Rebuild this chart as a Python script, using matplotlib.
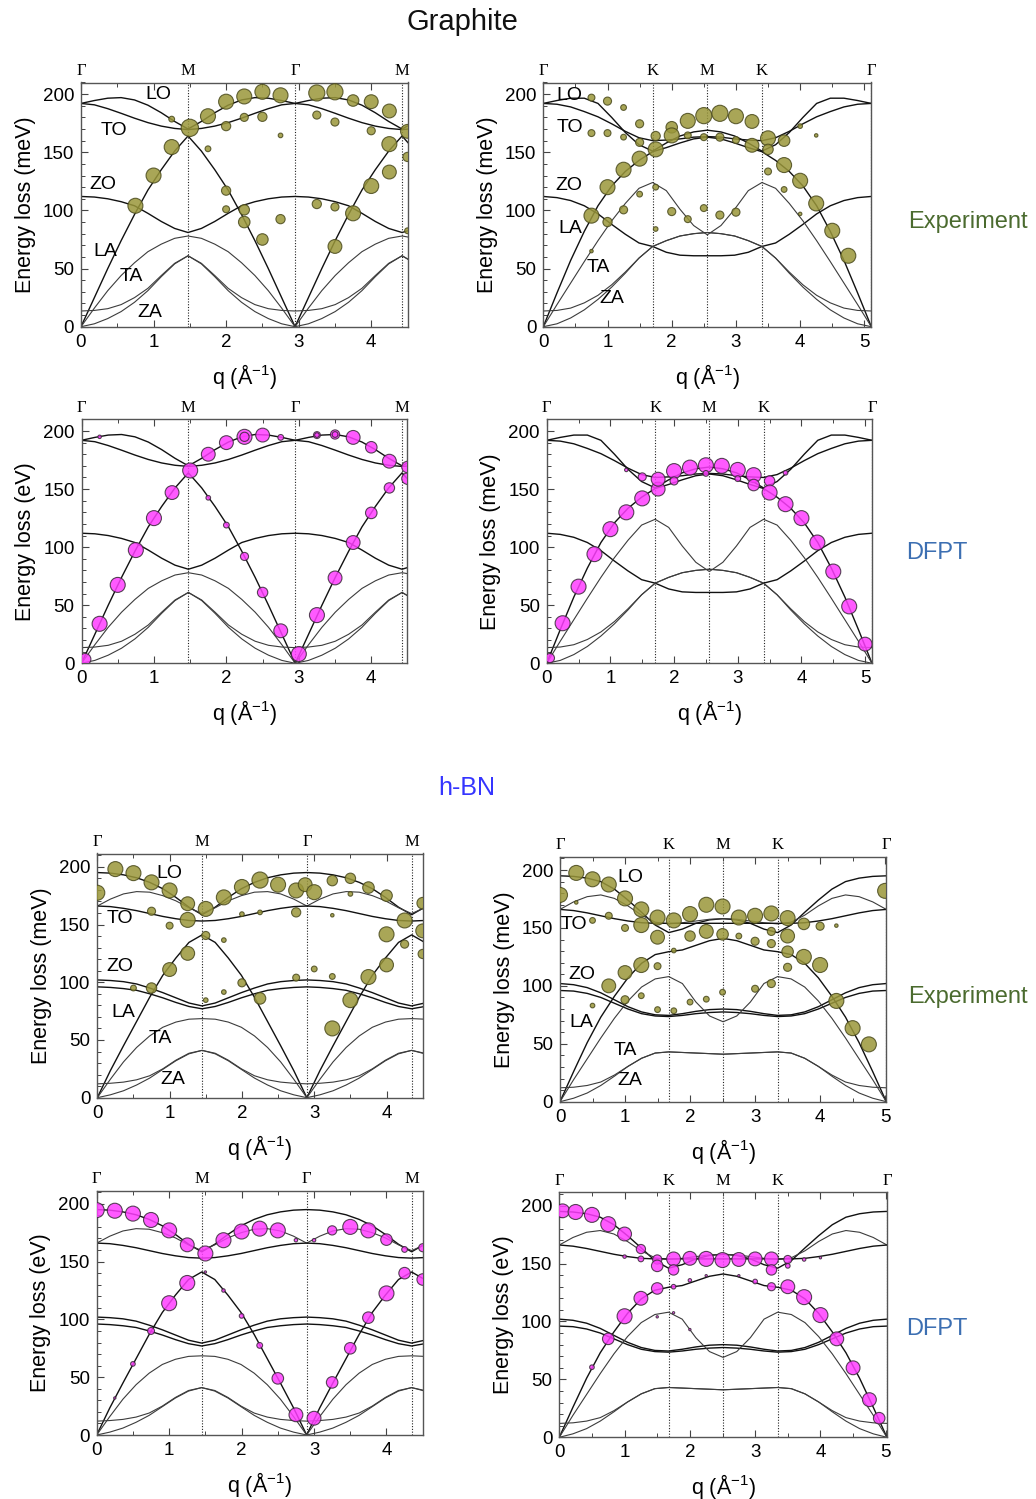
import numpy as np
import matplotlib
matplotlib.use("Agg")
import matplotlib.pyplot as plt
from matplotlib.ticker import MultipleLocator

plt.rcParams['font.family'] = ['Liberation Sans', 'DejaVu Sans']
plt.rcParams['mathtext.fontset'] = 'custom'
plt.rcParams['mathtext.rm'] = 'Liberation Sans'
plt.rcParams['mathtext.it'] = 'Liberation Sans:italic'
plt.rcParams['mathtext.bf'] = 'Liberation Sans:bold'

# ---------------------------------------------------------------------------
# Brillouin-zone segment lengths (1/Angstrom)
GR_GM, GR_GK, GR_KM = 1.475, 1.703, 0.851
BN_GM, BN_GK, BN_KM = 1.449, 1.673, 0.836

# fractional positions along a segment at which the branches are tabulated
T_LONG = [0.0, 0.125, 0.25, 0.375, 0.5, 0.625, 0.75, 0.875, 1.0]
T_SHORT = [0.0, 0.25, 0.5, 0.75, 1.0]

# ---------------------------------------------------------------------------
# Calculated phonon branches of graphite (meV)
gr_GM = {
    'LO':  [192, 194.5, 196.5, 197, 195, 190.5, 184, 176.5, 170],
    'TO':  [192, 190.8, 187.5, 183.5, 179.3, 175.5, 172.5, 170.5, 169.5],
    'LA':  [0, 25, 50, 74, 96.5, 117.5, 135, 151, 164],
    'ZO':  [112, 111.5, 110, 107.5, 104, 97.5, 90.5, 84.5, 81],
    'TA':  [0, 16, 31, 44, 55, 64.5, 71, 76, 78],
    'ZA':  [0, 2.5, 7, 13, 21, 31, 43, 54, 61],
    "ZO'": [13.5, 14, 15.5, 19, 25, 33, 44, 54.5, 61],
}
gr_GK = {
    'LO':  [192, 194.5, 196.5, 196.5, 192, 180, 167, 156.5, 151],
    'TO':  [192, 191.3, 189, 185, 180.5, 174.5, 168, 162.5, 160],
    'LA':  [0, 29, 57, 82, 104, 121, 133.5, 143, 150.5],
    'ZO':  [112, 111, 108.5, 104, 97, 88, 79.5, 72, 69],
    'TA':  [0, 19, 37.5, 56, 74, 91, 106, 119, 124],
    'ZA':  [0, 2.5, 7.5, 14.5, 23.5, 34, 46, 59, 69],
    "ZO'": [13.5, 14, 16, 20.5, 27, 36, 47, 59, 69],
}
gr_KM = {
    'LO':  [151, 158, 164, 167.5, 169],
    'TO':  [160, 160.5, 161.5, 163, 163.5],
    'LA':  [150.5, 154, 158, 161.5, 163],
    'ZO':  [69, 64, 61.5, 61, 61],
    'TA':  [124, 117, 101, 87, 79],
    'ZA':  [69, 74, 78, 80, 81],
    "ZO'": [69, 74, 78, 80, 81],
}

# Calculated phonon branches of h-BN (meV)
bn_GM = {
    'LO':  [195, 194.5, 193, 190.5, 186.5, 181, 173.5, 165, 158.5],
    'TO1': [166, 172, 176.5, 178.5, 178, 175, 170.5, 164.5, 159.5],
    'TO':  [166, 165.5, 164, 162, 159.5, 157, 155, 153.5, 153],
    'LA':  [0, 23.5, 45, 66, 87, 106, 121, 134.5, 141],
    'ZO':  [102, 101.5, 100.5, 98.5, 95, 91, 86.5, 82, 79.5],
    'ZO2': [96, 95.5, 94.5, 93, 90, 86.5, 82.5, 79, 77],
    'TA':  [0, 16, 31, 43.5, 53.5, 61, 65.5, 68, 68.5],
    'ZA':  [0, 2.5, 6, 11, 17, 24.5, 32, 38, 41],
    "ZO'": [12, 12.5, 13.5, 15.5, 19, 25, 32.5, 38.5, 41],
}
bn_GK = {
    'LO':  [195, 194.5, 193, 190, 183.5, 174, 163.5, 152.5, 146],
    'TO1': [166, 172.5, 177, 178.5, 175.5, 169, 161, 155, 153.5],
    'TO':  [166, 165, 163, 160.5, 158, 156, 154.5, 154, 154],
    'LA':  [0, 26, 51, 73, 91, 107, 119.5, 127, 129.5],
    'ZO':  [102, 101, 98.5, 94, 88, 82, 77.5, 75, 74.5],
    'ZO2': [96, 95.5, 93.5, 90, 85, 80, 76, 74, 73.5],
    'TA':  [0, 19, 37, 55, 72, 87, 99, 106, 108],
    'ZA':  [0, 3, 7.5, 14, 22, 30.5, 37.5, 42, 43],
    "ZO'": [12, 12.5, 14, 17, 23, 30.5, 37.5, 42, 43],
}
bn_KM = {
    'LO':  [146, 149, 154, 157, 158],
    'TO1': [153.5, 154.5, 156, 157.5, 158],
    'TO':  [154, 154, 154, 154, 154],
    'LA':  [129.5, 131, 135, 139, 141],
    'ZO':  [74.5, 76, 78, 79.5, 80],
    'ZO2': [73.5, 74.5, 76, 77, 77.5],
    'TA':  [108, 102, 86, 74, 69],
    'ZA':  [43, 42.5, 42, 41.5, 41],
    "ZO'": [43, 42.5, 42, 41.5, 41],
}

# ---------------------------------------------------------------------------
# Measured loss peaks: q (1/A), energy (meV), spectral weight (marker diameter)
gEL_q = [1.25, 1.5, 1.25, 1.0, 0.75, 1.75, 1.75, 2.0, 2.0, 2.25, 2.25, 2.5, 2.5, 2.75, 2.75,
         2.0, 2.0, 2.25, 2.25, 2.5, 2.75, 3.25, 3.5, 3.25, 3.5, 3.75, 4.0, 4.25, 4.0, 4.25,
         4.25, 4.0, 4.5, 4.5, 3.25, 3.5, 3.75, 3.5, 4.5]
gEL_E = [178.5, 171, 154.5, 130, 104, 181, 153, 193.5, 172.5, 198, 180, 202, 180.5, 199, 164.5,
         117, 101, 100.5, 90, 75, 92.5, 201, 202, 182, 176, 194.5, 193.5, 185.5, 168.5, 157,
         133, 121, 168, 146, 105.5, 103, 97.5, 69, 82.5]
gEL_w = [5, 15, 13, 13, 13, 13, 5, 13, 8, 13, 7, 13, 8, 13, 4,
         8, 6, 9, 10, 10, 8, 14, 14, 7, 7, 10, 12, 12, 7, 13,
         12, 13, 12, 8, 8, 7, 13, 12, 5]

gER_q = [0.75, 1.0, 1.25, 0.75, 1.0, 1.25, 1.5, 1.5, 1.5, 1.25, 1.0, 0.75, 1.0, 1.25, 1.5,
         1.75, 1.75, 0.75, 1.75, 1.75, 2.0, 2.0, 2.25, 2.25, 2.5, 2.5, 2.75, 2.75, 3.0, 3.0,
         3.25, 3.25, 3.5, 3.5, 3.75, 3.75, 4.0, 4.25, 4.5, 4.75, 3.5, 3.75, 4.0, 4.25, 4.0,
         2.0, 2.25, 2.5, 2.75, 3.0]
gER_E = [197, 194, 188.5, 166.5, 166.5, 163, 174.5, 158.5, 144.5, 135, 120, 95.5, 90, 100.5, 114,
         120, 84, 65, 164, 152.5, 171.5, 164.5, 177, 164.5, 181.5, 163, 183.5, 163, 181, 160.5,
         176.5, 156, 162, 152.5, 160, 139, 125.5, 106, 82.5, 61, 133.5, 118, 172.5, 164.5, 97,
         99, 92.5, 102, 96, 98.5]
gER_w = [6, 7, 5, 6, 6, 5, 7, 7, 13, 13, 13, 13, 8, 7, 5,
         5, 4, 3, 8, 13, 10, 13, 13, 6, 14, 6, 14, 7, 13, 6,
         12, 12, 13, 9, 10, 13, 13, 13, 13, 13, 6, 5, 4, 3, 3,
         7, 6, 6, 7, 7]

gDL_q = [0.05, 0.25, 0.5, 0.75, 1.0, 1.25, 1.5, 1.75, 2.0, 2.25, 2.5, 2.75, 1.75, 2.0, 2.25,
         2.5, 2.75, 3.0, 3.25, 3.5, 3.75, 4.0, 4.25, 4.5, 4.5, 4.25, 4.0, 3.75, 3.5, 3.25,
         0.25, 2.25, 3.5, 3.25]
gDL_E = [3.5, 34, 67.5, 97.5, 125, 147, 166, 180, 190, 195, 196.5, 194.5, 142.5, 119, 92,
         61, 28, 8, 41.5, 73.5, 104, 129.5, 151, 159, 169, 174, 186, 194.5, 197, 196.5,
         195, 195, 197, 196.5]
gDL_w = [10, 13, 13, 13, 13, 12, 13, 12, 12, 13, 12, 5, 4, 5, 7,
         9, 12, 13, 13, 12, 12, 10, 9, 10, 10, 12, 10, 12, 8, 6,
         3, 8, 5, 4]

gDR_q = [0.05, 0.25, 0.5, 0.75, 1.0, 1.25, 1.5, 1.75, 1.75, 2.0, 2.0, 2.25, 2.5, 2.75, 3.0,
         3.25, 3.25, 3.5, 3.5, 3.75, 4.0, 4.25, 4.5, 4.75, 5.0, 1.5, 1.25, 3.75, 2.5, 3.0]
gDR_E = [4.5, 34.5, 66, 94, 115.5, 130, 142, 150, 158.5, 165.5, 157, 168.5, 170.5, 170, 166.5,
         162, 153.5, 157, 147, 137, 125, 104, 79, 49, 16.5, 160.5, 166.5, 164, 163.5, 159]
gDR_w = [8, 13, 13, 13, 13, 13, 13, 12, 12, 13, 7, 13, 13, 13, 13,
         13, 10, 9, 13, 13, 13, 13, 13, 13, 12, 7, 3, 4, 5, 5]

hEL_q = [0.0, 0.25, 0.5, 0.75, 1.0, 1.25, 1.25, 1.5, 0.75, 1.0, 1.5, 1.25, 1.0, 0.75, 0.5,
         1.5, 1.75, 1.75, 1.75, 2.0, 2.0, 2.0, 2.25, 2.25, 2.25, 2.5, 2.75, 2.75, 2.75, 2.875,
         3.0, 3.0, 3.25, 3.25, 3.25, 3.25, 3.5, 3.5, 3.5, 3.75, 3.75, 4.0, 4.0, 4.0, 4.25,
         4.25, 4.5, 4.5, 4.5]
hEL_E = [177.5, 198, 194.5, 186.5, 179.5, 168, 154, 163.5, 161.5, 149, 140.5, 125, 111, 95, 95,
         84.5, 136.5, 91.5, 173.5, 182.5, 159, 99.5, 188.5, 160.5, 86, 184.5, 179.5, 160.5, 104, 184.5,
         178, 111.5, 188, 158, 105, 60, 190, 176.5, 84.5, 182, 104.5, 175, 141.5, 115, 153.5,
         133, 168.5, 144.5, 124.5]
hEL_w = [13, 13, 13, 13, 13, 12, 13, 13, 7, 6, 7, 12, 12, 9, 5,
         4, 4, 4, 13, 13, 4, 7, 14, 4, 10, 13, 13, 8, 6, 12,
         13, 5, 9, 3, 5, 13, 9, 4, 13, 10, 13, 10, 13, 12, 13,
         7, 10, 12, 8]

hER_q = [0.0, 0.25, 0.5, 0.75, 1.0, 1.25, 1.25, 1.5, 1.5, 1.75, 0.25, 0.5, 0.75, 1.0, 1.0,
         0.75, 1.25, 1.5, 0.5, 1.0, 1.25, 1.5, 1.75, 1.75, 2.0, 2.0, 2.0, 2.25, 2.25, 2.25,
         2.5, 2.5, 2.5, 2.75, 2.75, 3.0, 3.0, 3.0, 3.25, 3.25, 3.25, 3.25, 3.5, 3.5, 3.5,
         3.5, 3.75, 3.75, 4.0, 4.0, 4.25, 4.25, 4.5, 4.75, 5.0]
hER_E = [178.5, 197.5, 192, 187.5, 175.5, 166, 152.5, 159, 142, 156.5, 172, 156.5, 160.5, 150, 111.5,
         100, 118, 117, 83, 88, 91.5, 79.5, 78.5, 130.5, 162, 143, 86, 170, 147, 88.5,
         168.5, 144.5, 94.5, 159, 143, 160.5, 138.5, 97.5, 162.5, 147, 136.5, 102, 158.5, 143, 129.5,
         116, 153.5, 125, 151.5, 118, 152, 87, 63.5, 49.5, 182]
hER_w = [13, 13, 13, 13, 13, 13, 13, 13, 12, 13, 3, 5, 6, 6, 12,
         12, 13, 6, 4, 7, 5, 5, 5, 4, 13, 9, 5, 13, 12, 5,
         13, 10, 5, 13, 5, 13, 7, 6, 13, 7, 7, 7, 13, 12, 10,
         7, 10, 13, 7, 13, 3, 13, 13, 13, 13]

hDL_q = [0.0, 0.25, 0.5, 0.75, 1.0, 1.25, 1.5, 1.75, 2.0, 2.25, 2.5, 2.75, 3.0, 3.25, 3.5,
         3.75, 4.0, 4.25, 4.5, 4.25, 4.5, 4.0, 3.75, 3.5, 3.25, 3.0, 2.75, 2.5, 2.25, 2.0,
         1.75, 1.5, 1.25, 1.0, 0.75, 0.5, 0.25]
hDL_E = [194.5, 194, 191.5, 186, 177, 164.5, 157, 168.5, 176, 178.5, 177, 168.5, 168.5, 177, 180,
         177, 169, 160.5, 162, 140, 134.5, 122.5, 101.5, 75, 45.5, 14.5, 17.5, 49, 77.5, 103,
         125, 141, 131.5, 114, 90, 61.5, 32]
hDL_w = [13, 13, 13, 13, 13, 12, 13, 13, 13, 13, 13, 3, 3, 8, 13,
         13, 10, 5, 7, 10, 10, 13, 10, 10, 10, 12, 12, 10, 5, 4,
         3, 2, 13, 13, 6, 4, 2]

hDR_q = [0.05, 0.25, 0.5, 0.75, 1.0, 1.25, 1.25, 1.0, 1.5, 1.5, 1.75, 1.75, 2.0, 2.25, 2.5,
         2.75, 3.0, 3.25, 3.25, 3.5, 3.5, 3.75, 1.5, 1.25, 1.0, 0.75, 0.5, 1.75, 2.0, 2.25,
         2.75, 3.0, 3.25, 3.5, 3.75, 4.0, 4.25, 4.5, 4.75, 4.9, 1.5, 1.75, 2.0, 4.0]
hDR_E = [195.5, 194.5, 192, 184, 175.5, 162.5, 154, 156, 153.5, 148, 154, 144.5, 154.5, 154, 153,
         153.5, 154, 154, 144.5, 153.5, 148, 153.5, 128.5, 120, 104.5, 85, 60.5, 130, 135.5, 139.5,
         139.5, 134.5, 130, 130, 121, 105.5, 85, 60, 32.5, 16.5, 104, 107.5, 93, 155]
hDR_w = [12, 13, 13, 13, 12, 8, 5, 3, 8, 10, 12, 9, 12, 13, 13,
         12, 12, 12, 9, 7, 4, 3, 10, 12, 13, 10, 4, 4, 3, 2,
         2, 4, 7, 12, 13, 13, 12, 12, 12, 10, 2, 2, 2, 2]

# branch labels for the experiment panels: (text, q, E)
gr_left_labels = [('LO', 1.07, 200), ('TO', 0.45, 169), ('ZO', 0.30, 122.5),
                  ('LA', 0.34, 65), ('TA', 0.70, 43), ('ZA', 0.95, 12)]
gr_right_labels = [('LO', 0.40, 199), ('TO', 0.42, 171.5), ('ZO', 0.40, 121),
                   ('LA', 0.42, 84.5), ('TA', 0.85, 51), ('ZA', 1.06, 24.5)]
bn_left_labels = [('LO', 1.0, 194), ('TO', 0.31, 155), ('ZO', 0.31, 114),
                  ('LA', 0.36, 73.5), ('TA', 0.87, 51), ('ZA', 1.05, 16)]
bn_right_labels = [('LO', 1.08, 193.5), ('TO', 0.22, 153), ('ZO', 0.33, 110),
                   ('LA', 0.33, 68.5), ('TA', 1.0, 44.5), ('ZA', 1.08, 18.5)]

# ---------------------------------------------------------------------------
W, H = 1036, 1499
fig = plt.figure(figsize=(W / 100, H / 100), dpi=100)

OLIVE = dict(fc='#9a973a', ec='#4a4a1c')
MAGENTA = dict(fc='#ff3dff', ec='#3a2a3a')
THIN = {'TA', 'ZA', "ZO'", 'TO1'}
MARKER_SCALE = 0.83   # marker diameter in points per unit of spectral weight


def unfold_gmgm(seg, L):
    """Γ-M-Γ-M path built from the Γ-M segment."""
    t = np.asarray(T_LONG)
    q = np.concatenate([t * L, 2 * L - t[::-1] * L, 2 * L + t * L, 4 * L - t[::-1] * L])
    out = {}
    for k, v in seg.items():
        v = np.asarray(v, float)
        out[k] = np.concatenate([v, v[::-1], v, v[::-1]])
    return q, out


def unfold_gkmkg(seg_gk, seg_km, Lgk, Lkm):
    """Γ-K-M-K-Γ path built from the Γ-K and K-M segments."""
    t = np.asarray(T_LONG)
    s = np.asarray(T_SHORT)
    q = np.concatenate([t * Lgk, Lgk + s * Lkm, Lgk + 2 * Lkm - s[::-1] * Lkm,
                        2 * Lgk + 2 * Lkm - t[::-1] * Lgk])
    out = {}
    for k in seg_gk:
        a = np.asarray(seg_gk[k], float)
        b = np.asarray(seg_km[k], float)
        out[k] = np.concatenate([a, b, b[::-1], a[::-1]])
    return q, out


def make_axes(x0, y0, x1, y1):
    return fig.add_axes([x0 / W, 1 - y1 / H, (x1 - x0) / W, (y1 - y0) / H])


def panel(box, xmax, ymax, sym, path, pts, style, ylabel, labels=None):
    ax = make_axes(*box)
    q, branches = path
    for name, e in branches.items():
        if name in THIN:
            ax.plot(q, e, color='#3c3c3c', lw=0.8, zorder=2)
        else:
            ax.plot(q, e, color='#111111', lw=1.0, zorder=2)
    for pos, lbl in sym:
        if pos > 0:
            ax.axvline(pos, color='#222222', lw=0.8, ls=(0, (1, 1.5)), zorder=1)
        ax.annotate(lbl, (pos, 1.0), xycoords=('data', 'axes fraction'),
                    xytext=(0, 2.5), textcoords='offset points', ha='center', va='bottom',
                    fontsize=12, family=['Liberation Serif', 'DejaVu Serif'])
    pq, pe, pw = pts
    size = (np.asarray(pw, float) * MARKER_SCALE) ** 2
    ax.scatter(pq, pe, s=size, facecolor=style['fc'], edgecolor=style['ec'],
               linewidths=0.8, alpha=0.85, zorder=3, clip_on=True)
    if labels:
        for txt, lq, le in labels:
            ax.text(lq, le, txt, ha='center', va='center', fontsize=14, zorder=4)
    ax.set_xlim(0, xmax)
    ax.set_ylim(0, ymax)
    ax.xaxis.set_major_locator(MultipleLocator(1))
    ax.xaxis.set_minor_locator(MultipleLocator(0.5))
    ax.yaxis.set_major_locator(MultipleLocator(50))
    ax.yaxis.set_minor_locator(MultipleLocator(10))
    ax.tick_params(which='both', direction='in', top=True, right=False, labelsize=13.5,
                   color='#444444')
    ax.tick_params(which='major', length=5, width=0.8, pad=5)
    ax.tick_params(which='minor', length=3, width=0.7)
    for sp in ax.spines.values():
        sp.set_color('#555555')
        sp.set_linewidth(1.0)
    ax.set_xlabel('q (Å$^{\\mathregular{-1}}$)', fontsize=15.5, labelpad=8)
    ax.set_ylabel(ylabel, fontsize=15.5, labelpad=5)
    return ax


gr_sym_left = [(0, 'Γ'), (GR_GM, 'M'), (2 * GR_GM, 'Γ'), (3 * GR_GM, 'M')]
gr_sym_right = [(0, 'Γ'), (GR_GK, 'K'), (GR_GK + GR_KM, 'M'), (GR_GK + 2 * GR_KM, 'K'),
                (2 * GR_GK + 2 * GR_KM, 'Γ')]
bn_sym_left = [(0, 'Γ'), (BN_GM, 'M'), (2 * BN_GM, 'Γ'), (3 * BN_GM, 'M')]
bn_sym_right = [(0, 'Γ'), (BN_GK, 'K'), (BN_GK + BN_KM, 'M'), (BN_GK + 2 * BN_KM, 'K'),
                (2 * BN_GK + 2 * BN_KM, 'Γ')]

gr_left_path = unfold_gmgm(gr_GM, GR_GM)
gr_right_path = unfold_gkmkg(gr_GK, gr_KM, GR_GK, GR_KM)
bn_left_path = unfold_gmgm(bn_GM, BN_GM)
bn_right_path = unfold_gkmkg(bn_GK, bn_KM, BN_GK, BN_KM)
gr_xmax_right = 2 * GR_GK + 2 * GR_KM
bn_xmax_right = 2 * BN_GK + 2 * BN_KM

# graphite
panel((81, 82.5, 407.5, 326.7), 4.5, 210, gr_sym_left, gr_left_path,
      (gEL_q, gEL_E, gEL_w), OLIVE, 'Energy loss (meV)', gr_left_labels)
panel((543.3, 82.5, 871.3, 326.7), gr_xmax_right, 210, gr_sym_right, gr_right_path,
      (gER_q, gER_E, gER_w), OLIVE, 'Energy loss (meV)', gr_right_labels)
panel((81.5, 419.4, 407.5, 663.3), 4.5, 210, gr_sym_left, gr_left_path,
      (gDL_q, gDL_E, gDL_w), MAGENTA, 'Energy loss (eV)')
panel((546.7, 419.4, 872, 663.3), gr_xmax_right, 210, gr_sym_right, gr_right_path,
      (gDR_q, gDR_E, gDR_w), MAGENTA, 'Energy loss (meV)')

# h-BN
panel((97.3, 853.5, 422.7, 1097.7), 4.5, 211.5, bn_sym_left, bn_left_path,
      (hEL_q, hEL_E, hEL_w), OLIVE, 'Energy loss (meV)', bn_left_labels)
panel((560, 856.7, 886.3, 1101.7), bn_xmax_right, 211.5, bn_sym_right, bn_right_path,
      (hER_q, hER_E, hER_w), OLIVE, 'Energy loss (meV)', bn_right_labels)
panel((96.7, 1190.5, 422.7, 1435), 4.5, 211.5, bn_sym_left, bn_left_path,
      (hDL_q, hDL_E, hDL_w), MAGENTA, 'Energy loss (eV)')
panel((559.3, 1192.3, 886.9, 1437.3), bn_xmax_right, 211.5, bn_sym_right, bn_right_path,
      (hDR_q, hDR_E, hDR_w), MAGENTA, 'Energy loss (eV)')


def ftext(x, y, s, **kw):
    fig.text(x / W, 1 - y / H, s, ha='center', va='center', **kw)


ftext(462, 22, 'Graphite', fontsize=21, color='#111111')
ftext(467, 788, 'h-BN', fontsize=18, color='#3535ff')
ftext(968, 222, 'Experiment', fontsize=17, color='#4b6b2f')
ftext(937, 553, 'DFPT', fontsize=17, color='#3c6fb2')
ftext(968, 997, 'Experiment', fontsize=17, color='#4b6b2f')
ftext(937, 1329, 'DFPT', fontsize=17, color='#3c6fb2')

fig.savefig('out.png', dpi=100)
